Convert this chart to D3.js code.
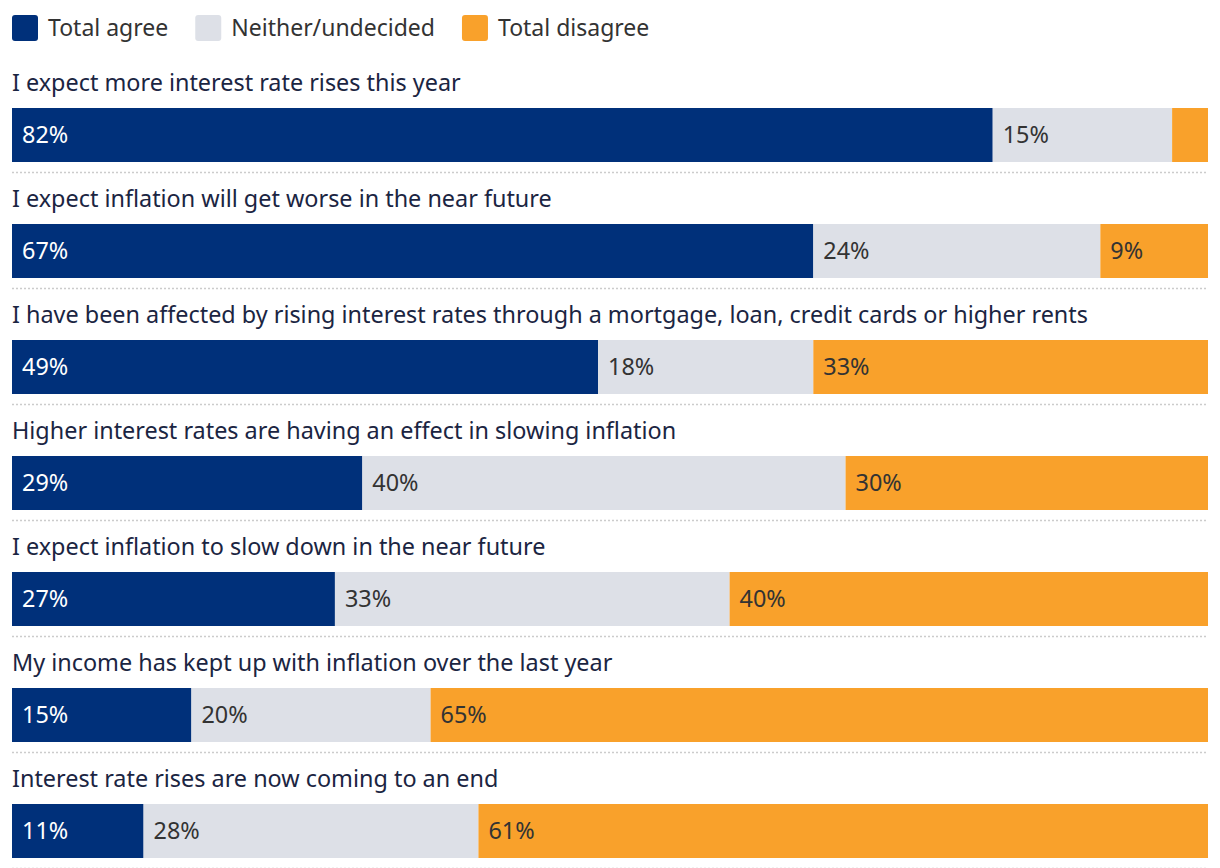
<!DOCTYPE html>
<html><head><meta charset="utf-8">
<script src="https://cdn.jsdelivr.net/npm/d3@7"></script>
<style>
body{margin:0;background:#fff;}
svg{display:block;font-family:"Noto Sans",sans-serif;}
</style></head>
<body><svg id="chart" width="1220" height="868"></svg>
<script>
const categories = [
  "I expect more interest rate rises this year",
  "I expect inflation will get worse in the near future",
  "I have been affected by rising interest rates through a mortgage, loan, credit cards or higher rents",
  "Higher interest rates are having an effect in slowing inflation",
  "I expect inflation to slow down in the near future",
  "My income has kept up with inflation over the last year",
  "Interest rate rises are now coming to an end"
];
const seriesNames = ["Total agree", "Neither/undecided", "Total disagree"];
const agree =    [82, 67, 49, 29, 27, 15, 11];
const neither =  [15, 24, 18, 40, 33, 20, 28];
const disagree = [3,  9, 33, 30, 40, 65, 61];
const colors = ["#00307a", "#dde0e7", "#f9a12b"];
const textColors = ["#ffffff", "#333333", "#333333"];

const svg = d3.select("#chart");
const left = 12, right = 1208;
const rowH = 116, top0 = 56;

// legend
const legend = svg.append("g");
let lx = left;
seriesNames.forEach((s, i) => {
  const g = legend.append("g").attr("transform", `translate(${lx},0)`);
  g.append("rect").attr("x", 0).attr("y", 15).attr("width", 26).attr("height", 26).attr("rx", 3).attr("fill", colors[i]);
  const t = g.append("text").attr("x", 36).attr("y", 28).attr("dy", "0.35em")
    .attr("font-size", 23).attr("fill", "#333").text(s);
  lx += 36 + t.node().getComputedTextLength() + 27;
});

const y = d3.scaleBand().domain(categories).range([top0, top0 + rowH * categories.length]);
const rows = categories.map((c, i) => {
  const vals = [agree[i], neither[i], disagree[i]];
  const total = d3.sum(vals);
  let acc = 0;
  const segs = vals.map((v, k) => { const s = {k, v, x0: acc / total, x1: (acc + v) / total}; acc += v; return s; });
  return {c, segs};
});
const x = d3.scaleLinear().domain([0, 1]).range([left, right]);

const g = svg.selectAll("g.row").data(rows).join("g").attr("class", "row")
  .attr("transform", d => `translate(0,${y(d.c)})`);

g.append("text").attr("x", left).attr("y", 27).attr("dy", "0.35em")
  .attr("font-size", 23.4).attr("fill", "#1b2542").text(d => d.c);

const seg = g.selectAll("g.seg").data(d => d.segs).join("g").attr("class", "seg");
seg.append("rect").attr("x", d => x(d.x0)).attr("width", d => x(d.x1) - x(d.x0))
  .attr("y", 52).attr("height", 54).attr("fill", d => colors[d.k]);
seg.filter(d => x(d.x1) - x(d.x0) > 40).append("text")
  .attr("x", d => x(d.x0) + 10).attr("y", 79).attr("dy", "0.35em")
  .attr("font-size", 23.4).attr("fill", d => textColors[d.k]).text(d => d.v + "%");

g.append("line").attr("x1", left).attr("x2", right).attr("y1", 116.5).attr("y2", 116.5)
  .attr("stroke", "#cccccc").attr("stroke-width", 1.5).attr("stroke-dasharray", "2,2");
</script></body></html>
